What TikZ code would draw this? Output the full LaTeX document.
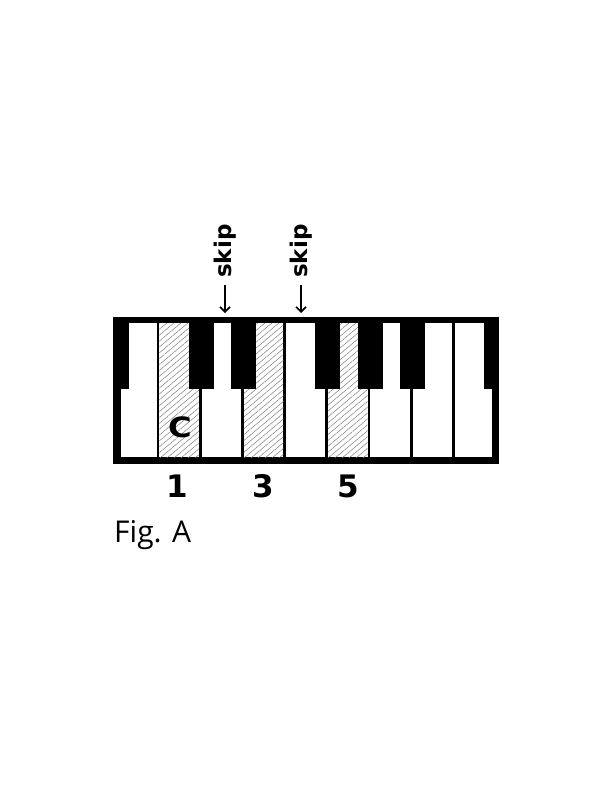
\documentclass[tikz,border=0pt]{standalone}
\usepackage{fontspec}
\setmainfont{Open Sans}
\newfontfamily\labelfont{DejaVu Sans}
\usetikzlibrary{patterns.meta,arrows.meta}
\begin{document}
\begin{tikzpicture}[x=1pt,y=-1pt,
    whitekey/.style={fill=white},
    blackkey/.style={fill=black},
    hatched/.style={pattern={Lines[angle=40,distance=4.5pt,line width=0.5pt]},pattern color=gray},
    skiplabel/.style={rotate=90,anchor=west,inner sep=0pt,font=\labelfont\bfseries\fontsize{23}{23}\selectfont},
    skiparrow/.style={line width=1.6pt,-{Straight Barb[length=5pt,width=10pt]}},
    degree/.style={anchor=base,inner sep=0pt,font=\labelfont\bfseries\fontsize{31}{31}\selectfont}]
  \useasboundingbox (0,0) rectangle (612,792);
  \fill (113,317) rectangle (499,464);
  \foreach \i in {0,...,8}
    \fill[whitekey] ({max(121,115.8+42.2*\i+1.35)},323) rectangle ({min(492,115.8+42.2*(\i+1)-1.35)},457);
  \foreach \i in {1,3,5}
    \fill[hatched] ({115.8+42.2*\i+1.35},323) rectangle ({115.8+42.2*(\i+1)-1.35},457);
  \foreach \j in {0,2,3,5,6,7,9}
    \fill[blackkey] ({max(113,115.8+42.2*\j-11.5)},317) rectangle ({min(499,115.8+42.2*\j+13.5)},389);
  \node[skiplabel] (skipD) at (225,278) {skip};
  \node[skiplabel] (skipF) at (301,278) {skip};
  \coordinate (tipD) at (225,313);
  \coordinate (tipF) at (301,313);
  \draw[skiparrow,shorten <=7pt] (skipD.west) -- (tipD);
  \draw[skiparrow,shorten <=7pt] (skipF.west) -- (tipF);
  \node[inner sep=0pt,font=\labelfont\bfseries\fontsize{28}{28}\selectfont] (noteC) at (180,427.5) {\scalebox{1.15}[1]{C}};
  \node[degree] (deg1) at (177,497) {1};
  \node[degree] (deg3) at (263,497) {3};
  \node[degree] (deg5) at (348,497) {5};
  \node[anchor=base west,inner sep=0pt,font=\fontsize{30}{30}\selectfont] (figA) at (114,542) {Fig. A};
\end{tikzpicture}
\end{document}
